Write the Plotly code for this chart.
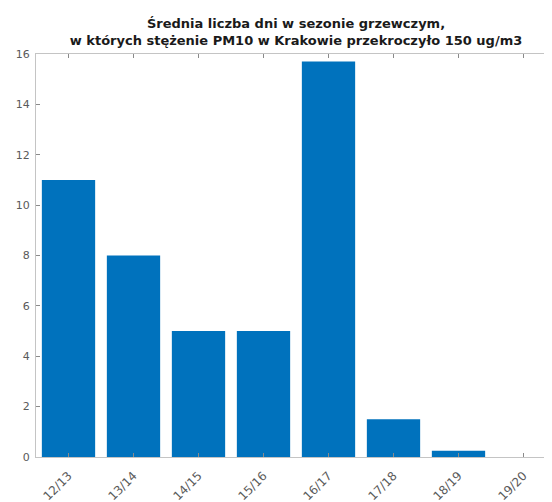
import plotly.graph_objects as go

seasons = ["12/13", "13/14", "14/15", "15/16", "16/17", "17/18", "18/19", "19/20"]
days = [11, 8, 5, 5, 15.7, 1.5, 0.25, 0]
y_ticks = [0, 2, 4, 6, 8, 10, 12, 14, 16]

# page body has an 8px margin, so the figure is offset by 8px
W, H = 544, 494
left, top, bottom = 28, 46, 45
px_per_cat = 65.0
plot_w = W - left
x_lo = -0.5
x_hi = x_lo + plot_w / px_per_cat

fig = go.Figure(go.Bar(
    x=list(range(len(seasons))), y=days,
    width=0.82,
    marker=dict(color="#0072BD", line=dict(width=0)),
))

axis_font = dict(family="DejaVu Sans, sans-serif", size=11, color="#5a5a5a")
xaxis_font = dict(family="DejaVu Sans, sans-serif", size=12, color="#5a5a5a")

fig.update_layout(
    width=W, height=H,
    margin=dict(l=left, r=0, t=top, b=bottom, pad=0),
    plot_bgcolor="white", paper_bgcolor="white",
    showlegend=False,
    title=dict(
        text="Średnia liczba dni w sezonie grzewczym,<br>w których stężenie PM10 w Krakowie przekroczyło 150 ug/m3",
        x=288 / W, xanchor="center",
        y=1 - 20 / H, yanchor="middle",
        font=dict(family="DejaVu Sans, sans-serif", size=13, color="#1a1a1a", weight="bold"),
    ),
    xaxis=dict(
        range=[x_lo, x_hi],
        tickmode="array", tickvals=list(range(len(seasons))), ticktext=seasons,
        tickangle=-45, tickfont=xaxis_font, ticklabelstandoff=6,
        ticks="inside", ticklen=4, tickcolor="#8a8a8a", tickwidth=1,
        showline=True, linecolor="#c4c4c4", linewidth=1, mirror="allticks",
        showgrid=False, zeroline=False,
    ),
    yaxis=dict(
        range=[0, 16],
        tickmode="array", tickvals=y_ticks, ticktext=[str(v) for v in y_ticks],
        tickfont=axis_font, ticklabelstandoff=3,
        ticks="inside", ticklen=4, tickcolor="#8a8a8a", tickwidth=1,
        showline=True, linecolor="#c4c4c4", linewidth=1, mirror=False,
        showgrid=False, zeroline=False,
    ),
)

fig.write_html("out.html")
